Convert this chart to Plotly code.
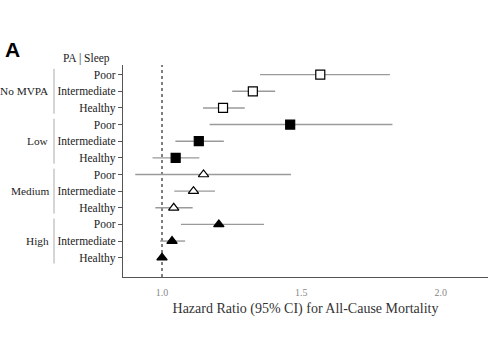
import plotly.graph_objects as go

groups = ["No MVPA", "Low", "Medium", "High"]
sleep = ["Poor", "Intermediate", "Healthy"]
hr = [1.568, 1.326, 1.219, 1.460, 1.132, 1.049, 1.149, 1.113, 1.042, 1.204, 1.036, 1.000]
lo = [1.352, 1.252, 1.147, 1.171, 1.048, 0.966, 0.904, 1.044, 0.976, 1.068, 0.993, 1.000]
hi = [1.818, 1.406, 1.297, 1.827, 1.222, 1.134, 1.463, 1.190, 1.110, 1.366, 1.083, 1.000]
x_ticks = [1.0, 1.5, 2.0]

symbols = ["square", "square", "triangle-up", "triangle-up"]
fills = ["white", "black", "white", "black"]

font = "Liberation Serif, Times New Roman, serif"
fig = go.Figure()
for g in range(4):
    idx = list(range(g * 3, g * 3 + 3))
    fig.add_trace(go.Scatter(
        x=[hr[i] for i in idx],
        y=idx,
        mode="markers",
        marker=dict(symbol=symbols[g], size=9, color=fills[g],
                    line=dict(color="black", width=1.2)),
        error_x=dict(type="data", symmetric=False,
                     array=[hi[i] - hr[i] for i in idx],
                     arrayminus=[hr[i] - lo[i] for i in idx],
                     color="#9a9a9a", thickness=1.4, width=0),
        showlegend=False,
        cliponaxis=False,
    ))

fig.add_shape(type="line", x0=1.0, x1=1.0, xref="x", y0=0, y1=1, yref="paper",
              line=dict(color="#555", width=1.5, dash="dot"), layer="below")

tickvals = list(range(12))
ticktext = [sleep[i % 3] for i in range(12)]

for g, name in enumerate(groups):
    fig.add_annotation(x=-0.198, xref="paper", xanchor="right", y=g * 3 + 1, yref="y",
                       text=name, showarrow=False, font=dict(family=font, size=11.3, color="#222"))
    fig.add_shape(type="line", x0=-0.189, x1=-0.189, xref="paper",
                  y0=g * 3 - 0.35, y1=g * 3 + 2.35, yref="y",
                  line=dict(color="#aaa", width=1))

fig.add_annotation(x=-0.171, xref="paper", y=1.0, yref="paper", yanchor="bottom", yshift=-2,
                   text="PA | Sleep", showarrow=False, font=dict(family=font, size=11.5, color="#222"))
fig.add_annotation(x=-0.33, xref="paper", xanchor="left", y=1.0, yref="paper", yanchor="bottom", yshift=2,
                   text="<b>A</b>", showarrow=False, font=dict(family="Liberation Sans, Arial", size=21, color="black"))

fig.update_layout(
    width=500, height=362,
    margin=dict(l=123, r=12, t=65, b=85),
    plot_bgcolor="white", paper_bgcolor="white",
    font=dict(family=font, size=11, color="#222"),
    xaxis=dict(range=[0.86, 2.17], tickvals=x_ticks, ticktext=["1.0", "1.5", "2.0"],
               showline=True, linecolor="#555", linewidth=1.3, showgrid=False, zeroline=False,
               ticks="", tickfont=dict(family=font, size=10, color="#888"), automargin=False,
               ticklabelstandoff=6,
               title=dict(text="Hazard Ratio (95% CI) for All-Cause Mortality",
                          font=dict(family=font, size=14, color="#333"), standoff=6)),
    yaxis=dict(range=[12.16, -0.58], tickvals=tickvals, ticktext=ticktext, automargin=False,
               showline=True, linecolor="#555", linewidth=1.3, showgrid=False, zeroline=False,
               ticks="outside", ticklen=4, tickcolor="#555", tickwidth=1,
               tickfont=dict(family=font, size=11.5, color="#222")),
)

fig.write_html("out.html", config={"displayModeBar": False},
               post_script="document.body.style.margin='0';")
